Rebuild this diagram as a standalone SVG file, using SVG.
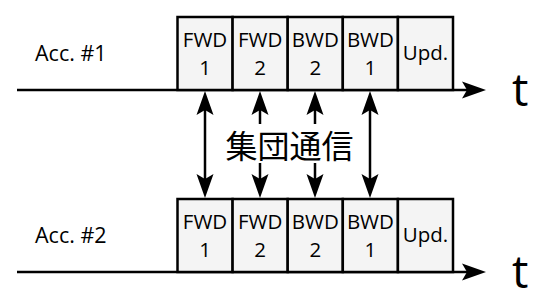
<svg xmlns="http://www.w3.org/2000/svg" width="542" height="302" viewBox="0 0 542 302">
<style>
.box{fill:#f4f4f4;stroke:#000;stroke-width:2.5}
.lbl{font-family:"Open Sans","Noto Sans",sans-serif;font-size:20.5px;fill:#000;text-anchor:middle}
.acc{font-family:"Open Sans","Noto Sans",sans-serif;font-size:21.5px;fill:#000}
.t{font-family:"Open Sans","Noto Sans",sans-serif;font-size:46px;fill:#000}
.jp{font-family:"Noto Sans CJK JP",sans-serif;font-size:32px;fill:#000;text-anchor:middle}
.ln{stroke:#000;stroke-width:2.5;fill:none}
</style>
<defs>
<marker id="ah" markerUnits="userSpaceOnUse" markerWidth="26" markerHeight="19" refX="5" refY="8.5" orient="auto-start-reverse" overflow="visible">
<path d="M24,8.5 L0,0 L5,8.5 L0,17 Z" fill="#000"/>
</marker>
</defs>
<rect width="542" height="302" fill="#fff"/>
<g id="connectors">
<line class="ln" x1="17" y1="90" x2="467" y2="90" marker-end="url(#ah)"/>
<line class="ln" x1="17" y1="272" x2="467" y2="272" marker-end="url(#ah)"/>
<line class="ln" x1="205" y1="110" x2="205" y2="179" marker-start="url(#ah)" marker-end="url(#ah)"/>
<line class="ln" x1="260" y1="110" x2="260" y2="124" marker-start="url(#ah)"/>
<line class="ln" x1="260" y1="163" x2="260" y2="179" marker-end="url(#ah)"/>
<line class="ln" x1="315" y1="110" x2="315" y2="124" marker-start="url(#ah)"/>
<line class="ln" x1="315" y1="163" x2="315" y2="179" marker-end="url(#ah)"/>
<line class="ln" x1="370" y1="110" x2="370" y2="179" marker-start="url(#ah)" marker-end="url(#ah)"/>
</g>
<g id="acc1">
<text class="acc" x="35" y="61">Acc. #1</text>
<text class="t" x="512" y="106">t</text>
</g>
<g id="acc1-fwd1"><rect class="box" x="177.5" y="17" width="55.1" height="73"/><text class="lbl" x="205" y="47">FWD</text><text class="lbl" x="205" y="75">1</text></g>
<g id="acc1-fwd2"><rect class="box" x="232.6" y="17" width="55.1" height="73"/><text class="lbl" x="260.2" y="47">FWD</text><text class="lbl" x="260.2" y="75">2</text></g>
<g id="acc1-bwd2"><rect class="box" x="287.7" y="17" width="55.1" height="73"/><text class="lbl" x="315.3" y="47">BWD</text><text class="lbl" x="315.3" y="75">2</text></g>
<g id="acc1-bwd1"><rect class="box" x="342.8" y="17" width="55.1" height="73"/><text class="lbl" x="370.4" y="47">BWD</text><text class="lbl" x="370.4" y="75">1</text></g>
<g id="acc1-upd"><rect class="box" x="397.9" y="17" width="55.1" height="73"/><text class="lbl" x="425.5" y="60">Upd.</text></g>
<g id="acc2">
<text class="acc" x="35" y="243">Acc. #2</text>
<text class="t" x="512" y="288">t</text>
</g>
<g id="acc2-fwd1"><rect class="box" x="177.5" y="199" width="55.1" height="73"/><text class="lbl" x="205" y="229">FWD</text><text class="lbl" x="205" y="257">1</text></g>
<g id="acc2-fwd2"><rect class="box" x="232.6" y="199" width="55.1" height="73"/><text class="lbl" x="260.2" y="229">FWD</text><text class="lbl" x="260.2" y="257">2</text></g>
<g id="acc2-bwd2"><rect class="box" x="287.7" y="199" width="55.1" height="73"/><text class="lbl" x="315.3" y="229">BWD</text><text class="lbl" x="315.3" y="257">2</text></g>
<g id="acc2-bwd1"><rect class="box" x="342.8" y="199" width="55.1" height="73"/><text class="lbl" x="370.4" y="229">BWD</text><text class="lbl" x="370.4" y="257">1</text></g>
<g id="acc2-upd"><rect class="box" x="397.9" y="199" width="55.1" height="73"/><text class="lbl" x="425.5" y="242">Upd.</text></g>
<g id="label-collective">
<text class="jp" x="289.5" y="158">集団通信</text>
</g>
</svg>
